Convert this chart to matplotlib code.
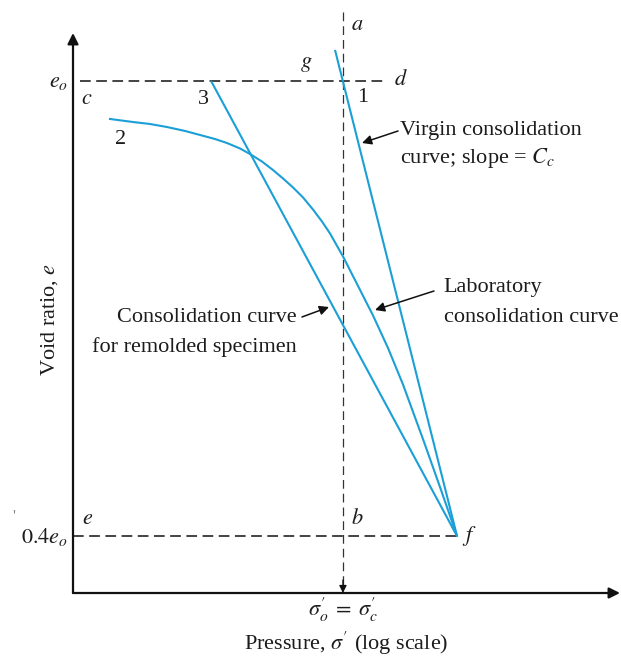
import matplotlib
matplotlib.use("Agg")
import matplotlib.pyplot as plt
import matplotlib.patches as mpatches

plt.rcParams['font.family'] = ['Liberation Serif', 'DejaVu Serif']
plt.rcParams['mathtext.fontset'] = 'stix'

# ---- data (pressure on log scale, void ratio with e0 = 1) ----
e0 = 1.0
e_final = 0.4 * e0
sigma_c = 31.2          # preconsolidation pressure (sigma'_o = sigma'_c)
sigma_f = 133.5         # point f

virgin_p = [28.2, sigma_f]
virgin_e = [1.041, e_final]

remold_p = [5.81, sigma_f]
remold_e = [e0, e_final]

lab_p = [1.602, 2.148, 2.668, 3.314, 4.168, 5.047, 6.108, 7.118, 8.403, 9.544,
         11.12, 12.79, 14.54, 16.51, 18.76, 21.30, 23.89, 26.46, 31.23, 37.33,
         45.77, 55.41, 67.07, 87.68, 108.9, sigma_f]
lab_e = [0.9499, 0.9459, 0.9433, 0.9393, 0.9341, 0.9288, 0.9235, 0.9182,
         0.9110, 0.9037, 0.8938, 0.8826, 0.8714, 0.8596, 0.8464, 0.8305,
         0.8147, 0.7989, 0.7686, 0.7323, 0.6908, 0.6479, 0.5998, 0.5240,
         0.4607, e_final]

e0_line_p = [1.093, 53.3]
ef_line_p = [1.0, sigma_f]
vline_e = [1.091, 0.331]

blue = '#1b9fd6'
txt = '#1c1c1c'
W, H = 621, 660

fig = plt.figure(figsize=(W / 100, H / 100), dpi=100)
ax = fig.add_axes([73 / W, (H - 593) / H, (W - 73) / W, 593 / H])
ax.set_xscale('log')
ax.set_xlim(1, 1079.6)
ax.set_ylim(0.3248, 1.1068)
ax.axis('off')

# axes with arrows
ax.annotate('', xy=(0, (593 - 33) / 593), xytext=(0, 0), xycoords='axes fraction',
            arrowprops=dict(arrowstyle='-|>', lw=1.6, color='#111111',
                            mutation_scale=16, shrinkA=0, shrinkB=0))
ax.annotate('', xy=((620 - 73) / 548, 0), xytext=(0, 0), xycoords='axes fraction',
            arrowprops=dict(arrowstyle='-|>', lw=1.6, color='#111111',
                            mutation_scale=16, shrinkA=0, shrinkB=0))

dash = (0, (7, 3.6))
ax.plot(e0_line_p, [e0, e0], color='#111111', lw=1.1, ls=dash)
ax.plot(ef_line_p, [e_final, e_final], color='#111111', lw=1.1, ls=dash)
ax.plot([sigma_c, sigma_c], vline_e, color='#333333', lw=0.9, ls=(0, (7, 4)))
ax.annotate('', xy=(sigma_c, 0.3248), xytext=(sigma_c, 0.342),
            arrowprops=dict(arrowstyle='-|>', lw=0.9, color='#111111',
                            mutation_scale=11, shrinkA=0, shrinkB=0))

# curves
ax.plot(virgin_p, virgin_e, color=blue, lw=1.5, solid_capstyle='butt')
ax.plot(remold_p, remold_e, color=blue, lw=1.5, solid_capstyle='butt')
ax.plot(lab_p, lab_e, color=blue, lw=1.5, solid_joinstyle='round')


def T(px, py, s, ha='center', va='center', size=16, **kw):
    fig.text(px / W, 1 - py / H, s, ha=ha, va=va, fontsize=size, color=txt, **kw)


def A(x0, y0, x1, y1):
    fig.add_artist(mpatches.FancyArrowPatch(
        (x0 / W, 1 - y0 / H), (x1 / W, 1 - y1 / H), transform=fig.transFigure,
        arrowstyle='-|>', mutation_scale=14, lw=1.1, color='#111111',
        shrinkA=0, shrinkB=0))


# point labels
T(357, 26, r'$a$')
T(306, 64, r'$g$')
T(401, 80, r'$d$')
T(363, 97, '1')
T(87, 99, r'$c$')
T(203, 99, '3')
T(121, 139, '2')
T(88, 519, r'$e$')
T(357, 519, r'$b$')
T(469, 536, r'$f$')

# axis labels
T(68, 82, r'$e_o$', ha='right')
T(68, 537, r'$0.4e_o$', ha='right')
T(14, 517, "'", size=12, alpha=0.5)
T(50, 319, r'Void ratio, $e$', rotation=90)
T(343, 610, r"$\sigma^{\prime}_{o}\;=\;\sigma^{\prime}_{c}$")
T(346, 643, r"Pressure, $\sigma^{\prime}$ (log scale)")

# annotations
T(400, 130, 'Virgin consolidation', ha='left')
T(400, 158, r'curve; slope = $C_c$', ha='left')
A(398, 131, 362, 143)

T(443, 288, 'Laboratory', ha='left')
T(444, 318, 'consolidation curve', ha='left')
A(434, 291, 375, 310)

T(297, 318, 'Consolidation curve', ha='right')
T(297, 347, 'for remolded specimen', ha='right')
A(302, 317, 329, 307)

fig.savefig('out.png', dpi=100)
